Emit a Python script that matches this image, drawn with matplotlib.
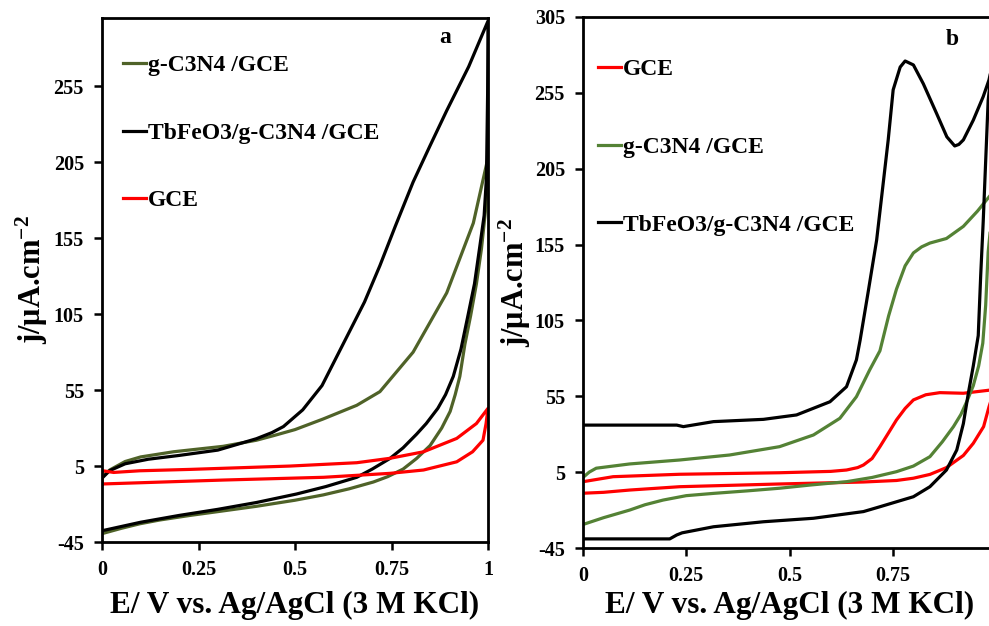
import numpy as np
import matplotlib.pyplot as plt

# -------------------------
# Dados (E em V, j em uA/cm2)
# -------------------------

# painel a - g-C3N4/GCE (varredura ida + volta)
a_green_x = [0.0, 0.02, 0.06, 0.10, 0.185, 0.314, 0.40, 0.444, 0.50, 0.573, 0.66, 0.72, 0.806, 0.893, 0.962, 1.0,
             0.998, 0.993, 0.983, 0.97, 0.955, 0.94, 0.927, 0.915, 0.902, 0.88, 0.85, 0.815, 0.78, 0.74, 0.703,
             0.64, 0.573, 0.50, 0.40, 0.30, 0.228, 0.15, 0.098, 0.05, 0.0]
a_green_y = [-2, 2.4, 8, 11, 14.4, 18, 22, 25, 29, 36, 45, 54, 80, 119, 165, 208,
             190, 172, 148, 125, 104, 85, 64, 52, 41, 30, 18.5, 10, 3, -2, -5.5,
             -10, -14, -17.5, -21.5, -25, -27.5, -30.5, -33, -36, -39.5]

# painel a - TbFeO3/g-C3N4/GCE
a_black_x = [0.0, 0.02, 0.06, 0.12, 0.20, 0.30, 0.40, 0.44, 0.47, 0.52, 0.57, 0.634, 0.68, 0.72, 0.76, 0.806,
             0.85, 0.893, 0.95, 1.0,
             0.999, 0.996, 0.99, 0.979, 0.965, 0.948, 0.93, 0.91, 0.89, 0.87, 0.84, 0.815, 0.78, 0.746, 0.70,
             0.66, 0.58, 0.504, 0.40, 0.30, 0.20, 0.10, 0.0]
a_black_y = [-3, 2, 6.5, 9.5, 12, 15.5, 23, 27, 31, 42, 58, 90, 113, 137, 163, 192,
             216, 239, 268, 298,
             250, 195, 170, 150, 125, 104, 82, 64, 52, 43, 33, 26, 17, 10, 3,
             -2.4, -8.5, -13.4, -19, -23.5, -27.5, -32, -37.6]

# painel a - GCE
a_red_x = [0.0, 0.0, 0.03, 0.098, 0.228, 0.487, 0.66, 0.746, 0.833, 0.919, 0.97, 1.0,
           0.995, 0.987, 0.96, 0.919, 0.833, 0.746, 0.574, 0.315, 0.098, 0.0]
a_red_y = [-7, 2, 0.8, 1.9, 2.8, 5, 7.2, 10.1, 14.4, 23.2, 33, 43,
           33, 22, 14.4, 7.8, 2.4, 0.2, -2.4, -4.2, -6, -6.8]

# painel b - GCE
b_red_x = [0.0, 0.073, 0.234, 0.476, 0.60, 0.638, 0.665, 0.679, 0.70, 0.719, 0.74, 0.759, 0.78, 0.80, 0.83,
           0.864, 0.921, 0.983, 1.0,
           0.99, 0.983, 0.97, 0.945, 0.921, 0.88, 0.84, 0.80, 0.759, 0.679, 0.476, 0.234, 0.113, 0.05, 0.0]
b_red_y = [-1.3, 2, 3.6, 4.6, 5.5, 6.4, 8, 9.7, 14, 21.8, 31, 39.4, 47, 52.6, 56,
           57.4, 57, 59, 60,
           54, 48, 35, 24, 16, 8, 3.5, 1, -0.5, -1.5, -2.8, -4.6, -6.8, -8.3, -8.9]

# painel b - g-C3N4/GCE
b_green_x = [0.0, 0.015, 0.032, 0.113, 0.234, 0.355, 0.476, 0.558, 0.622, 0.662, 0.694, 0.719, 0.74, 0.759, 0.78,
             0.80, 0.82, 0.84, 0.88, 0.921, 0.955, 0.977, 1.0,
             0.99, 0.981, 0.975, 0.968, 0.958, 0.945, 0.93, 0.915, 0.897, 0.87, 0.84, 0.80, 0.759, 0.70,
             0.638, 0.55, 0.476, 0.40, 0.316, 0.25, 0.194, 0.15, 0.113, 0.05, 0.0]
b_green_y = [1.5, 5, 7.6, 10.4, 13, 16.3, 21.8, 29.5, 40.5, 54.7, 72.3, 85, 108, 125.6, 141,
             149.5, 153.5, 156, 159, 167, 177, 184.4, 192,
             175, 150, 115, 90, 75, 62, 52, 43, 35, 25, 15.2, 9, 5.3, 1.5,
             -1.3, -3.5, -5.6, -7.3, -9, -10.5, -13.4, -16.5, -20, -25, -29.5]

# painel b - TbFeO3/g-C3N4/GCE
b_black_x = [0.0, 0.10, 0.227, 0.243, 0.316, 0.437, 0.517, 0.598, 0.638, 0.662, 0.671, 0.69, 0.711, 0.739, 0.751,
             0.768, 0.78, 0.80, 0.824, 0.856, 0.881, 0.90, 0.91, 0.921, 0.945, 0.969, 0.983, 1.0,
             0.99, 0.981, 0.975, 0.969, 0.963, 0.957, 0.951, 0.945, 0.933, 0.921, 0.905, 0.88, 0.84, 0.80,
             0.719, 0.679, 0.558, 0.437, 0.316, 0.24, 0.227, 0.21, 0.0]
b_black_y = [36, 36, 36, 35, 38.3, 39.8, 42.7, 51.4, 61.3, 79, 92, 123, 158, 224, 257,
             272, 276, 273.4, 261, 241.5, 226, 220, 221, 224, 237, 252.5, 263.5, 285,
             272, 250, 210, 170, 135, 95, 85, 75, 57, 37, 19.6, 6.4, -4.6, -11.2,
             -17.8, -21, -25.4, -27.7, -31, -35, -36.4, -39, -39]

x_ticks = [0, 0.25, 0.5, 0.75, 1]
x_tick_labels = ["0", "0.25", "0.5", "0.75", "1"]
y_ticks = [-45, 5, 55, 105, 155, 205, 255, 305]

lbl_gce = "GCE"
lbl_cn = "g-C3N4 /GCE"
lbl_tb = "TbFeO3/g-C3N4 /GCE"

# -------------------------
# Estilo
# -------------------------

plt.rcParams['font.family'] = ['Liberation Serif', 'DejaVu Serif']
plt.rcParams['font.weight'] = 'bold'
plt.rcParams['axes.unicode_minus'] = False
plt.rcParams['mathtext.fontset'] = 'custom'
plt.rcParams['mathtext.rm'] = 'Liberation Serif:bold'
plt.rcParams['mathtext.it'] = 'Liberation Serif:bold'
plt.rcParams['mathtext.bf'] = 'Liberation Serif:bold'

lw = 2.3
xlabel = "E/ V vs. Ag/AgCl (3 M KCl)"
ylabel = "j/\u03bcA.cm$^{-2}$"

fig = plt.figure(figsize=(9.89, 6.26), dpi=100)
ax_a = fig.add_axes([102/989, (626-542)/626, 386/989, 524/626])
ax_b = fig.add_axes([583/989, (626-548)/626, 413/989, 531/626])

# painel a
ax_a.plot(a_green_x, a_green_y, color='#4F6228', lw=lw, label=lbl_cn)
ax_a.plot(a_black_x, a_black_y, color='black', lw=lw, label=lbl_tb)
ax_a.plot(a_red_x, a_red_y, color='#FF0000', lw=lw, label=lbl_gce)
ax_a.set_ylim(-45, 300)

# painel b
ax_b.plot(b_red_x, b_red_y, color='#FF0000', lw=lw, label=lbl_gce)
ax_b.plot(b_green_x, b_green_y, color='#548235', lw=lw, label=lbl_cn)
ax_b.plot(b_black_x, b_black_y, color='black', lw=lw, label=lbl_tb)
ax_b.set_ylim(-45, 305)

for ax in [ax_a, ax_b]:
    ax.set_xlim(0, 1)
    ax.set_xticks(x_ticks)
    ax.set_xticklabels(x_tick_labels)
    ax.set_yticks([t for t in y_ticks if t <= ax.get_ylim()[1]])
    ax.tick_params(direction='out', length=6, width=1.8, labelsize=14.5, pad=7)
    for s in ax.spines.values():
        s.set_linewidth(2)
    ax.set_xlabel(xlabel, fontsize=22.5, fontweight='bold', va='center')
    ax.set_ylabel(ylabel, fontsize=22, fontweight='bold', va='center')

ax_a.xaxis.set_label_coords(0.5, (542-605)/524)
ax_b.xaxis.set_label_coords(0.5, (548-605)/531)
ax_a.yaxis.set_label_coords((32-102)/386, 0.5)
ax_b.yaxis.set_label_coords((515-583)/413, 0.5)

ax_a.legend(loc='upper left', bbox_to_anchor=(0.054, 0.930), frameon=False, fontsize=17,
            handlelength=1.0, handletextpad=0.05, labelspacing=1.95, borderpad=0, borderaxespad=0)
ax_b.legend(loc='upper left', bbox_to_anchor=(0.036, 0.9215), frameon=False, fontsize=17,
            handlelength=1.0, handletextpad=0.05, labelspacing=2.38, borderpad=0, borderaxespad=0)

ax_a.text(0.889, 0.962, "a", transform=ax_a.transAxes, fontsize=17, fontweight='bold', ha='center', va='center')
ax_b.text(0.893, 0.958, "b", transform=ax_b.transAxes, fontsize=17, fontweight='bold', ha='center', va='center')

fig.savefig('out.png', dpi=100)
